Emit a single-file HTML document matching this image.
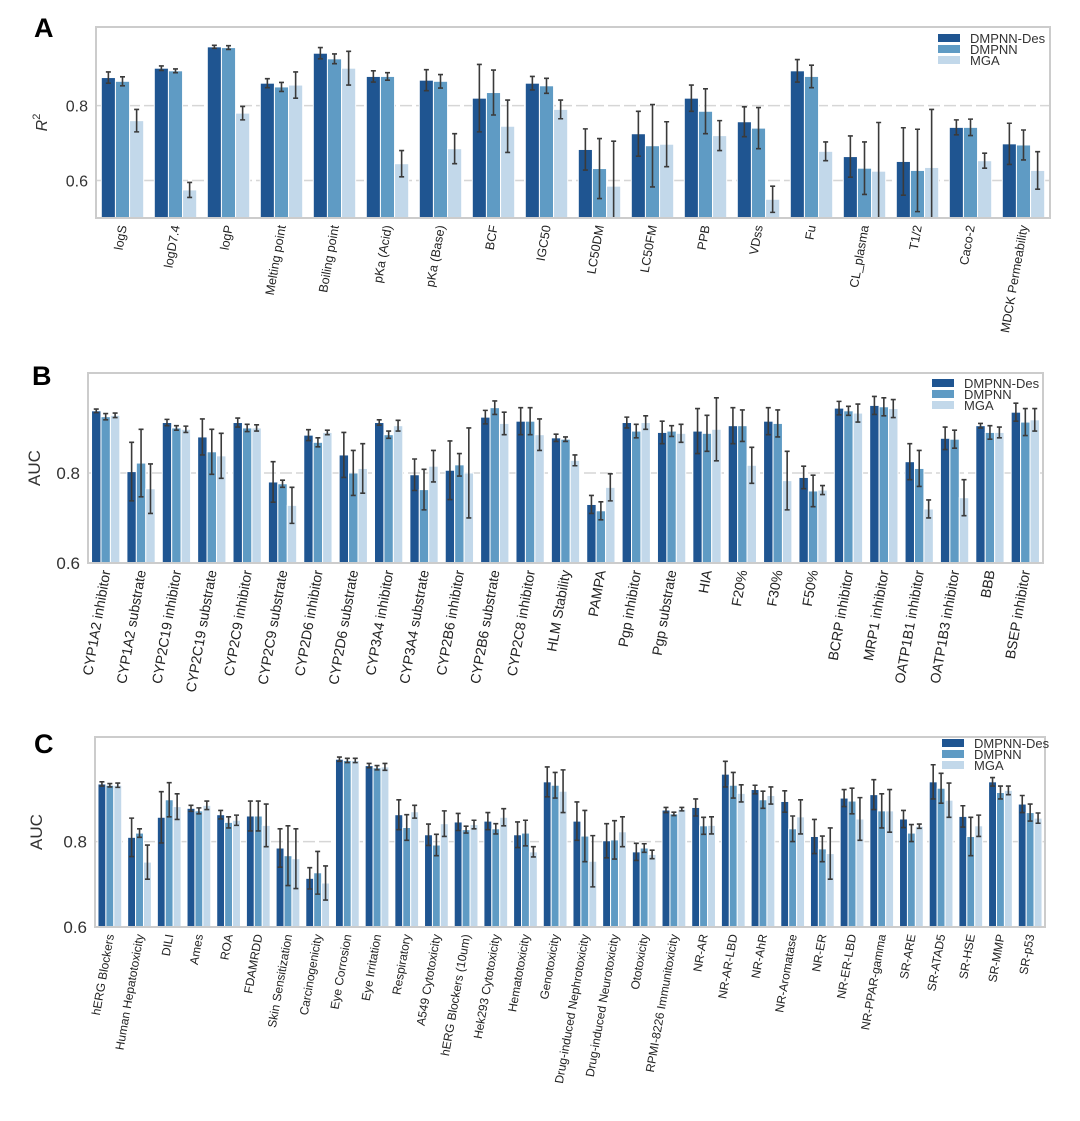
<!DOCTYPE html>
<html><head><meta charset="utf-8"><style>
html,body{margin:0;padding:0;background:#fff;}
svg{display:block;font-family:"Liberation Sans",Arial,sans-serif;}
</style></head><body>
<svg id="chart" width="1080" height="1121" viewBox="0 0 1080 1121" xmlns="http://www.w3.org/2000/svg"></svg>
<script>
// Panel A data
const catsA = ["logS","logD7.4","logP","Melting point","Boiling point","pKa (Acid)","pKa (Base)","BCF","IGC50","LC50DM","LC50FM","PPB","VDss","Fu","CL_plasma","T1/2","Caco-2","MDCK Permeability"];
const desA = [.875,.90,.957,.86,.94,.878,.868,.82,.86,.683,.725,.82,.757,.893,.664,.651,.742,.698];
const dmA  = [.865,.893,.955,.85,.925,.878,.865,.835,.853,.632,.693,.785,.740,.878,.633,.627,.742,.695];
const mgaA = [.76,.575,.78,.855,.90,.645,.685,.745,.79,.585,.697,.72,.55,.678,.625,.635,.653,.627];
const eDesA = [.015,.006,.004,.012,.015,.015,.028,.09,.018,.055,.06,.035,.04,.03,.055,.09,.02,.055];
const eDmA  = [.012,.005,.005,.012,.013,.01,.018,.06,.02,.08,.11,.06,.055,.03,.07,.11,.022,.04];
const eMgaA = [.03,.02,.018,.035,.045,.035,.04,.07,.025,.12,.06,.04,.035,.025,.13,.155,.02,.05];
// Panel B data
const catsB = ["CYP1A2 inhibitor","CYP1A2 substrate","CYP2C19 inhibitor","CYP2C19 substrate","CYP2C9 inhibitor","CYP2C9 substrate","CYP2D6 inhibitor","CYP2D6 substrate","CYP3A4 inhibitor","CYP3A4 substrate","CYP2B6 inhibitor","CYP2B6 substrate","CYP2C8 inhibitor","HLM Stability","PAMPA","Pgp inhibitor","Pgp substrate","HIA","F20%","F30%","F50%","BCRP inhibitor","MRP1 inhibitor","OATP1B1 inhibitor","OATP1B3 inhibitor","BBB","BSEP inhibitor"];
const desB = [.938,.803,.912,.880,.912,.780,.884,.840,.912,.796,.806,.924,.915,.878,.730,.912,.890,.893,.905,.915,.790,.944,.950,.825,.877,.905,.935];
const dmB  = [.925,.822,.900,.847,.900,.776,.868,.800,.885,.763,.818,.945,.915,.875,.716,.893,.893,.888,.905,.910,.760,.938,.947,.810,.875,.890,.913];
const mgaB = [.928,.765,.897,.838,.900,.728,.890,.810,.905,.815,.800,.910,.885,.828,.768,.912,.888,.897,.817,.783,.762,.933,.943,.720,.745,.890,.918];
const eDesB = [.004,.065,.007,.04,.01,.045,.012,.05,.006,.035,.065,.015,.03,.008,.02,.012,.025,.05,.04,.03,.025,.015,.02,.04,.025,.005,.02];
const eDmB  = [.007,.075,.005,.05,.008,.008,.01,.05,.008,.045,.025,.015,.03,.005,.02,.015,.012,.04,.035,.03,.035,.01,.02,.04,.02,.015,.03];
const eMgaB = [.005,.055,.007,.05,.007,.04,.005,.055,.012,.035,.1,.025,.035,.012,.03,.015,.02,.07,.04,.065,.01,.02,.02,.02,.04,.012,.025];
// Panel C data
const catsC = ["hERG Blockers","Human Hepatotoxicity","DILI","Ames","ROA","FDAMRDD","Skin Sensitization","Carcinogenicity","Eye Corrosion","Eye Irritation","Respiratory","A549 Cytotoxicity","hERG Blockers (10um)","Hek293 Cytotoxicity","Hematotoxicity","Genotoxicity","Drug-induced Nephrotoxicity","Drug-induced Neurotoxicity","Ototoxicity","RPMI-8226 Immunitoxicity","NR-AR","NR-AR-LBD","NR-AhR","NR-Aromatase","NR-ER","NR-ER-LBD","NR-PPAR-gamma","SR-ARE","SR-ATAD5","SR-HSE","SR-MMP","SR-p53"];
const desC = [.935,.81,.857,.878,.863,.860,.785,.714,.993,.978,.863,.816,.846,.848,.816,.940,.848,.802,.776,.874,.880,.958,.922,.894,.812,.902,.910,.853,.940,.859,.940,.888];
const dmC  = [.932,.82,.898,.872,.845,.860,.767,.727,.990,.973,.833,.792,.828,.830,.820,.932,.813,.804,.785,.865,.837,.932,.898,.830,.783,.895,.872,.820,.925,.812,.915,.868];
const mgaC = [.932,.752,.882,.885,.850,.838,.760,.703,.990,.975,.870,.842,.840,.857,.776,.918,.754,.823,.770,.876,.838,.913,.908,.858,.772,.853,.872,.836,.897,.837,.920,.855];
const eDesC = [.005,.045,.06,.007,.01,.035,.045,.025,.005,.005,.035,.025,.02,.02,.03,.035,.045,.04,.02,.006,.02,.03,.01,.025,.04,.02,.035,.02,.04,.025,.01,.02];
const eDmC  = [.004,.01,.04,.007,.013,.035,.07,.05,.005,.005,.03,.025,.008,.012,.03,.03,.06,.045,.01,.004,.02,.03,.02,.03,.03,.03,.04,.02,.035,.045,.015,.02];
const eMgaC = [.005,.04,.03,.01,.012,.05,.07,.04,.005,.008,.015,.03,.01,.02,.012,.05,.06,.035,.01,.004,.02,.02,.02,.04,.06,.05,.05,.005,.04,.025,.01,.012];

const colors = ["#1f5591","#5f9bc4","#c2d8ea"];
const names = ["DMPNN-Des","DMPNN","MGA"];
const svg = document.getElementById('chart');
const NS = "http://www.w3.org/2000/svg";
function mk(tag, attrs, parent){
  const e = document.createElementNS(NS, tag);
  for (const k in attrs) e.setAttribute(k, attrs[k]);
  (parent||svg).appendChild(e);
  return e;
}

function panel(p){
  const g = mk('g', {});
  
  
  const yS = v => p.y1 - (v - p.ymin) / (p.ymax - p.ymin) * (p.y1 - p.y0);
  const band = (p.x1 - p.x0) / p.cats.length;
  const xS = i => p.x0 + band * (i + 0.5);
  const L = mk('text', {x: p.lx, y: p.ly, 'font-size': 27, 'font-weight': 'bold', fill: '#000'}, g);
  L.textContent = p.id;
  
  
  p.ticks.forEach(t => {
    const y = yS(t);
    const gl = mk('line', {x1: p.x0, x2: p.x1, y1: y, y2: y, stroke: '#d6d6d6', 'stroke-width': 1.5, 'stroke-dasharray': '12,4'}, g);
    
    
    const tt = mk('text', {x: p.x0 - 8, y: y + 6, 'font-size': p.tickFs, 'text-anchor': 'end', fill: '#333'}, g);
    tt.textContent = t.toFixed(1);
    
    
  });
  const yt = mk('text', {transform: `translate(${p.ytx},${(p.y0 + p.y1) / 2}) rotate(-90)`, 'font-size': p.tickFs, 'text-anchor': 'middle', fill: '#333'}, g);
  if (p.ylabel === 'R2') {
    yt.innerHTML = '<tspan font-style="italic">R</tspan><tspan font-size="11" dy="-7">2</tspan>';
  } else yt.textContent = p.ylabel;
  
  
  const bw = band * 0.8 / 3;
  p.cats.forEach((c, i) => {
    [p.s[0], p.s[1], p.s[2]].forEach((arr, k) => {
      const v = arr[i];
      const x = xS(i) - band * 0.4 + k * bw;
      const yb = yS(Math.max(v, p.ymin));
      const r = mk('rect', {x: x, y: yb, width: bw, height: p.y1 - yb, fill: colors[k], stroke: '#fff', 'stroke-width': 1}, g);
      
      
      const e = p.e[k][i];
      const cx = x + bw / 2;
      const ya = yS(Math.min(v + e, p.ymax)), yc = yS(Math.max(v - e, p.ymin));
      const eb = mk('path', {d: `M${cx},${ya}V${yc}M${cx - 2.5},${ya}H${cx + 2.5}M${cx - 2.5},${yc}H${cx + 2.5}`, stroke: '#3a3a3a', 'stroke-width': 1.6, fill: 'none'}, g);
      
      
    });
    const lb = mk('text', {transform: `translate(${xS(i) + p.labFs * 0.35},${p.y1 + 8}) rotate(-80)`, 'font-size': p.labFs, 'text-anchor': 'end', fill: '#222'}, g);
    lb.textContent = c;
    
    
  });
  const fr = mk('rect', {x: p.x0, y: p.y0, width: p.x1 - p.x0, height: p.y1 - p.y0, fill: 'none', stroke: '#cccccc', 'stroke-width': 2}, g);
  
  
  const lg = mk('g', {}, g);
  
  
  names.forEach((n, k) => {
    const yy = p.legY + k * p.legStep;
    const sw = mk('rect', {x: p.legX, y: yy - 8, width: 22, height: 8, fill: colors[k]}, lg);
    
    
    const t = mk('text', {x: p.legX + 32, y: yy + 1, 'font-size': p.legFs, fill: '#333'}, lg);
    t.textContent = n;
    
    
  });
}

panel({id:'A', cats:catsA, s:[desA,dmA,mgaA], e:[eDesA,eDmA,eMgaA], x0:96, x1:1050, y0:27, y1:218, ymin:.5, ymax:1.01, ticks:[.6,.8], tickFs:16, labFs:12.5, ylabel:'R2', ytx:47, lx:34, ly:37, legX:938, legY:42, legStep:11, legFs:13});
panel({id:'B', cats:catsB, s:[desB,dmB,mgaB], e:[eDesB,eDmB,eMgaB], x0:88, x1:1043, y0:373, y1:563, ymin:.6, ymax:1.022, ticks:[.6,.8], tickFs:17, labFs:14, ylabel:'AUC', ytx:40, lx:32, ly:385, legX:932, legY:387, legStep:11, legFs:13});
panel({id:'C', cats:catsC, s:[desC,dmC,mgaC], e:[eDesC,eDmC,eMgaC], x0:95, x1:1045, y0:737, y1:927, ymin:.6, ymax:1.045, ticks:[.6,.8], tickFs:17, labFs:12, ylabel:'AUC', ytx:42, lx:34, ly:753, legX:942, legY:747, legStep:11, legFs:13});
</script>
</body></html>
